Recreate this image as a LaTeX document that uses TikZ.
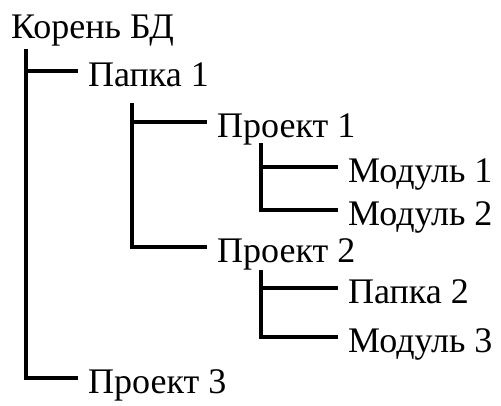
\documentclass[tikz,border=0pt]{standalone}
\usepackage{fontspec}
\setmainfont{Liberation Serif}
\newfontfamily\treefont{Liberation Serif}
\usepackage{tikz}

\begin{document}
\begin{tikzpicture}[x=1pt,y=-1pt]
        \tikzstyle{lbl} = [anchor=base west, inner xsep=10pt, inner ysep=0pt, text height=30pt, text depth=0pt, font=\treefont\fontsize{36}{40}\selectfont]
        \tikzstyle{e} = [line width=3.2pt];
        \useasboundingbox (0,0) rectangle (501,405);

        \node[lbl](root) at (1,38){Корень БД};
        \node[lbl](p1) at (78,86){Папка 1};
        \node[lbl](pr1) at (207,137){Проект 1};
        \node[lbl](m1) at (338,182){Модуль 1};
        \node[lbl](m2) at (338,225){Модуль 2};
        \node[lbl](pr2) at (207,262){Проект 2};
        \node[lbl](pp2) at (338,303){Папка 2};
        \node[lbl](m3) at (338,352){Модуль 3};
        \node[lbl](pr3) at (78,393){Проект 3};

        \coordinate (r) at (26,49);
        \coordinate (a) at (132,103);
        \coordinate (b) at (261,143);
        \coordinate (c) at (261,270);

        \draw[e](r) |- (p1.west);
        \draw[e](r) |- (pr3.west);
        \draw[e](a) |- (pr1.west);
        \draw[e](a) |- (pr2.west);
        \draw[e](b) |- (m1.west);
        \draw[e](b) |- (m2.west);
        \draw[e](c) |- (pp2.west);
        \draw[e](c) |- (m3.west);

    \end{tikzpicture}
\end{document}
